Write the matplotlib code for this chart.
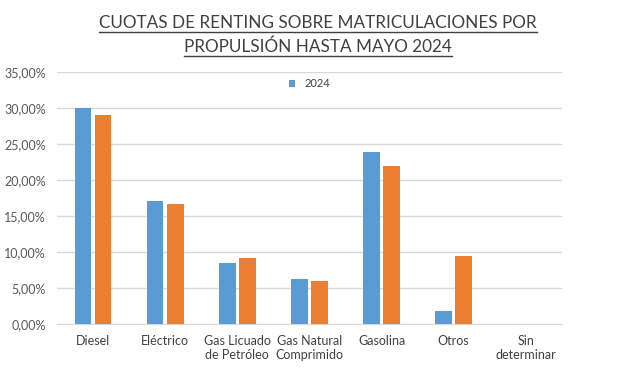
import numpy as np
import matplotlib.pyplot as plt
from matplotlib.ticker import FuncFormatter
from matplotlib.lines import Line2D

plt.rcParams['font.family'] = ['Lato', 'DejaVu Sans']

categorias = ['Diesel', 'Eléctrico', 'Gas Licuado\nde Petróleo', 'Gas Natural\nComprimido',
              'Gasolina', 'Otros', 'Sin\ndeterminar']
cuota_2024 = [30.0, 17.1, 8.5, 6.2, 23.9, 1.8, 0.0]
cuota_otra = [29.1, 16.6, 9.1, 6.0, 22.0, 9.45, 0.0]

fig = plt.figure(figsize=(6.27, 3.68), dpi=100)
ax = fig.add_axes([0.091, 0.12, 0.805, 0.684])

x = np.arange(len(categorias))
w = 0.23
ax.bar(x - 0.14, cuota_2024, w, color='#5B9BD5', label='2024', zorder=3)
ax.bar(x + 0.14, cuota_otra, w, color='#ED7D31', zorder=3)

ax.set_xlim(-0.5, len(categorias) - 0.5)
ax.set_ylim(0, 35)
ax.set_yticks(np.arange(0, 36, 5))
ax.yaxis.set_major_formatter(FuncFormatter(lambda v, p: f'{v:.2f}%'.replace('.', ',')))
ax.set_xticks(x)
ax.set_xticklabels(categorias, fontsize=9, color='#404040')
ax.tick_params(axis='y', labelsize=9, colors='#595959', length=0, pad=8)
ax.tick_params(axis='x', length=0, pad=8)
ax.grid(axis='y', color='#d9d9d9', linewidth=1, zorder=0)
for s in ['top', 'right', 'left']:
    ax.spines[s].set_visible(False)
ax.spines['bottom'].set_color('#d9d9d9')

ax.legend(loc='upper center', bbox_to_anchor=(0.5, 1.015), frameon=False, fontsize=8,
          handlelength=0.6, handleheight=0.6, labelcolor='#404040')

t1 = fig.text(0.507, 0.938, 'CUOTAS DE RENTING SOBRE MATRICULACIONES POR', ha='center',
              va='center', fontsize=12.3, color='#404040')
t2 = fig.text(0.507, 0.873, 'PROPULSIÓN HASTA MAYO 2024', ha='center', va='center',
              fontsize=12.3, color='#404040')

fig.canvas.draw()
r = fig.canvas.get_renderer()
for t in (t1, t2):
    bb = t.get_window_extent(r).transformed(fig.transFigure.inverted())
    y = bb.y0 - 0.004
    fig.add_artist(Line2D([bb.x0, bb.x1], [y, y], color='#404040', linewidth=1,
                          transform=fig.transFigure))

fig.savefig('out.png', dpi=100)
